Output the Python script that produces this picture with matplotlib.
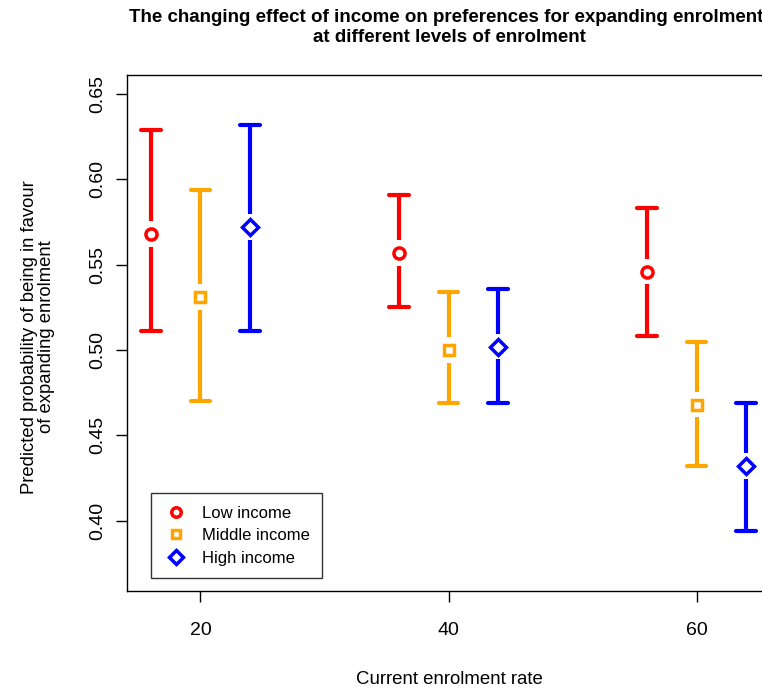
"""
Predicted support for expanding enrolment by income group, at three
current enrolment rates, with confidence intervals.
"""

import matplotlib

matplotlib.use("Agg")
import matplotlib.pyplot as plt

plt.rcParams["font.family"] = ["Liberation Sans", "DejaVu Sans"]

# enrolment levels and horizontal offset of each income group
enrolment = [20, 40, 60]
offsets = [-4, 0, 4]

groups = ["Low income", "Middle income", "High income"]
colors = ["red", "orange", "blue"]
markers = ["o", "s", "D"]
marker_sizes = [8, 6.5, 8]

# predicted probability and interval bounds, one row per income group
estimate = [
    [0.568, 0.557, 0.546],
    [0.531, 0.500, 0.468],
    [0.572, 0.502, 0.432],
]
upper = [
    [0.629, 0.591, 0.583],
    [0.594, 0.534, 0.505],
    [0.632, 0.536, 0.469],
]
lower = [
    [0.511, 0.525, 0.508],
    [0.470, 0.469, 0.432],
    [0.511, 0.469, 0.394],
]

W, H = 762, 689
fig = plt.figure(figsize=(W / 100, H / 100), dpi=100)
# the plotting region runs slightly past the right edge of the device
left, right, top, bottom = 127, 770, 75, 591
ax = fig.add_axes([left / W, 1 - bottom / H, (right - left) / W, (bottom - top) / H])

gap = 0.0075   # space left around each point marker
cap = 0.8      # half-width of the interval caps
lw = 3

for g in range(3):
    xs = [e + offsets[g] for e in enrolment]
    for i, x in enumerate(xs):
        y, hi, lo = estimate[g][i], upper[g][i], lower[g][i]
        ax.plot([x, x], [y + gap, hi], color=colors[g], lw=lw, solid_capstyle="butt")
        ax.plot([x, x], [lo, y - gap], color=colors[g], lw=lw, solid_capstyle="butt")
        ax.plot([x - cap, x + cap], [hi, hi], color=colors[g], lw=lw, solid_capstyle="round")
        ax.plot([x - cap, x + cap], [lo, lo], color=colors[g], lw=lw, solid_capstyle="round")
    ax.plot(xs, estimate[g], linestyle="none", marker=markers[g], ms=marker_sizes[g],
            mfc="white", mec=colors[g], mew=2.5, label=groups[g])

ax.set_xlim(14.08, 65.92)
ax.set_ylim(0.3588, 0.6612)
ax.set_xticks(enrolment)
ax.set_yticks([0.40, 0.45, 0.50, 0.55, 0.60, 0.65])
ax.set_yticklabels(["0.40", "0.45", "0.50", "0.55", "0.60", "0.65"],
                   rotation=90, va="center")
ax.tick_params(axis="both", direction="out", length=8, width=1, labelsize=14)
ax.tick_params(axis="x", pad=14)
ax.tick_params(axis="y", pad=7)
for side in ax.spines.values():
    side.set_linewidth(1)

fig.text((355 + 543) / 2 / W, 1 - 680 / H, "Current enrolment rate",
         ha="center", va="center", fontsize=13.4)
fig.text(38 / W, 1 - 337 / H,
         "Predicted probability of being in favour\nof expanding enrolment",
         ha="center", va="center", rotation=90, fontsize=13.3, linespacing=1.05)
fig.text(449 / W, 1 - 9 / H,
         "The changing effect of income on preferences for expanding enrolment,\n"
         "at different levels of enrolment",
         ha="center", va="top", fontsize=13.5, fontweight="bold", linespacing=1.22)

leg = ax.legend(loc="lower left",
                bbox_to_anchor=((151 - left) / (right - left), (bottom - 578) / (bottom - top)),
                frameon=True, fancybox=False, edgecolor="black", fontsize=12,
                handletextpad=0.8, borderpad=0.75, labelspacing=0.45, handlelength=1.5,
                borderaxespad=0, markerscale=0.85)
leg.get_frame().set_linewidth(1)

fig.savefig("out.png", dpi=100)
